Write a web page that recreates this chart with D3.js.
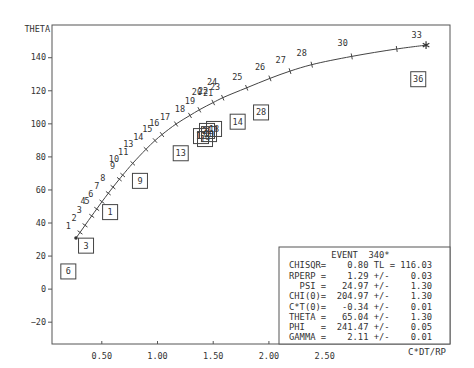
<!DOCTYPE html>
<html>
<head>
<meta charset="utf-8">
<script src="https://cdn.jsdelivr.net/npm/d3@7"></script>
<style>
  body { margin: 0; background: #fff; }
  text { font-family: "DejaVu Sans Mono", monospace; fill: #333; }
</style>
</head>
<body>
<div id="chart"></div>
<script>
// fitted track (x = C*DT/RP, y = THETA)
const curveX = [0.273, 0.309, 0.354, 0.414, 0.459, 0.506, 0.563, 0.605, 0.662, 0.692, 0.782, 0.901, 0.982, 1.045, 1.171, 1.296, 1.38, 1.505, 1.59, 1.805, 2.014, 2.194, 2.389, 2.748, 3.152, 3.415];
const curveY = [30.6, 34.0, 38.3, 44.0, 48.2, 52.6, 57.7, 61.4, 66.2, 68.7, 75.8, 84.3, 89.6, 93.2, 99.6, 104.8, 108.2, 112.6, 115.5, 121.5, 127.2, 131.6, 135.5, 140.5, 145.0, 147.3];

// numbered measurement labels along the track
const numLabels = ['1', '2', '3', '4', '5', '6', '7', '8', '9', '10', '11', '13', '14', '15', '16', '17', '18', '19', '20', '22', '21', '23', '24', '25', '26', '27', '28', '30', '33'];
const numX = [0.204, 0.255, 0.303, 0.336, 0.372, 0.405, 0.459, 0.513, 0.602, 0.614, 0.697, 0.742, 0.832, 0.913, 0.976, 1.072, 1.206, 1.296, 1.359, 1.413, 1.458, 1.521, 1.494, 1.721, 1.925, 2.11, 2.299, 2.667, 3.331];
const numY = [37.6, 42.7, 47.7, 52.8, 52.8, 57.3, 62.2, 66.8, 74.2, 78.3, 82.5, 87.3, 91.9, 96.4, 100.4, 104, 108.4, 113.5, 118.9, 119.5, 118.3, 122.1, 124.9, 127.8, 133.8, 138.6, 142.6, 148.3, 153.7];

// boxed points
const boxLabels = ['6', '3', '1', '9', '13', '17', '19', '21', '20', '18', '14', '28', '36'];
const boxX = [0.204, 0.363, 0.579, 0.847, 1.213, 1.395, 1.431, 1.449, 1.467, 1.512, 1.724, 1.934, 3.345];
const boxY = [10.4, 26, 46.3, 65.2, 81.9, 92.3, 90.5, 95.4, 93.5, 96.6, 101, 106.6, 126.7];

const yTicks = [-20, 0, 20, 40, 60, 80, 100, 120, 140];
const xTicks = [0.5, 1.0, 1.5, 2.0, 2.5];

const fitLines = [
  '        EVENT  340*',
  'CHISQR=    0.80 TL = 116.03',
  'RPERP =    1.29 +/-    0.03',
  '  PSI =   24.97 +/-    1.30',
  'CHI(0)=  204.97 +/-    1.30',
  'C*T(0)=   -0.34 +/-    0.01',
  'THETA =   65.04 +/-    1.30',
  'PHI   =  241.47 +/-    0.05',
  'GAMMA =    2.11 +/-    0.01'
];

const W = 474, H = 368;
const pLeft = 52, pRight = 450, pTop = 25, pBottom = 344;

const svg = d3.select('#chart').append('svg')
  .attr('width', W)
  .attr('height', H);

const x = d3.scaleLinear().domain([0.0575, 3.63]).range([pLeft, pRight]);
const y = d3.scaleLinear().domain([-33.5, 159.5]).range([pBottom, pTop]);

// frame
svg.append('rect')
  .attr('x', pLeft).attr('y', pTop)
  .attr('width', pRight - pLeft).attr('height', pBottom - pTop)
  .attr('fill', 'none').attr('stroke', '#555').attr('stroke-width', 1);

// y axis
const yAxis = d3.axisLeft(y).tickValues(yTicks).tickSize(4).tickPadding(2)
  .tickFormat(d => d3.format('.0f')(d));
const gy = svg.append('g').attr('transform', `translate(${pLeft},0)`).call(yAxis);
gy.select('.domain').remove();
gy.selectAll('line').attr('stroke', '#555');
gy.selectAll('text').style('font-size', '8.5px').attr('fill', '#333');

// x axis, ticks point inward
const xAxis = d3.axisBottom(x).tickValues(xTicks).tickSize(-3).tickPadding(9)
  .tickFormat(d3.format('.2f'));
const gx = svg.append('g').attr('transform', `translate(0,${pBottom})`).call(xAxis);
gx.select('.domain').remove();
gx.selectAll('line').attr('stroke', '#555');
gx.selectAll('text').style('font-size', '8.5px').attr('fill', '#333');

svg.append('text')
  .attr('x', 50).attr('y', 32)
  .attr('text-anchor', 'end')
  .style('font-size', '8.5px')
  .text('THETA');

svg.append('text')
  .attr('x', 446).attr('y', 355)
  .attr('text-anchor', 'end')
  .style('font-size', '9px')
  .text('C*DT/RP');

// track
const pts = curveX.map((d, i) => [x(d), y(curveY[i])]);
svg.append('path')
  .attr('d', d3.line().curve(d3.curveCatmullRom)(pts))
  .attr('fill', 'none').attr('stroke', '#444').attr('stroke-width', 1);

// small cross ticks on the track
const tickLen = 3;
pts.slice(1, -1).forEach((p, k) => {
  const a = pts[k], b = pts[k + 2];
  const dx = b[0] - a[0], dy = b[1] - a[1];
  const n = Math.hypot(dx, dy);
  const nx = -dy / n, ny = dx / n;
  svg.append('line')
    .attr('x1', p[0] - nx * tickLen).attr('y1', p[1] - ny * tickLen)
    .attr('x2', p[0] + nx * tickLen).attr('y2', p[1] + ny * tickLen)
    .attr('stroke', '#444').attr('stroke-width', 1);
});

// start dot and end asterisk
svg.append('circle')
  .attr('cx', pts[0][0]).attr('cy', pts[0][1]).attr('r', 1.8)
  .attr('fill', '#333');
svg.append('path')
  .attr('transform', `translate(${pts[pts.length - 1][0]},${pts[pts.length - 1][1]})`)
  .attr('d', d3.symbol().type(d3.symbolAsterisk).size(40)())
  .attr('fill', 'none').attr('stroke', '#333').attr('stroke-width', 1.2);

// numbers along track
svg.selectAll('.num')
  .data(numLabels)
  .enter()
  .append('text')
  .attr('class', 'num')
  .attr('x', (d, i) => x(numX[i]))
  .attr('y', (d, i) => y(numY[i]))
  .attr('dy', '0.35em')
  .attr('text-anchor', 'middle')
  .style('font-size', '8.5px')
  .text(d => d);

// boxed points
const boxes = svg.selectAll('.box')
  .data(boxLabels)
  .enter()
  .append('g')
  .attr('class', 'box')
  .attr('transform', (d, i) => `translate(${x(boxX[i])},${y(boxY[i])})`);

boxes.append('rect')
  .attr('x', -7.5).attr('y', -7.5)
  .attr('width', 15).attr('height', 15)
  .attr('fill', 'none').attr('stroke', '#444').attr('stroke-width', 1);

boxes.append('text')
  .attr('dy', '0.35em')
  .attr('text-anchor', 'middle')
  .style('font-size', '8.5px')
  .text(d => d);

// fit results box
svg.append('rect')
  .attr('x', 279).attr('y', 247)
  .attr('width', pRight - 279).attr('height', pBottom - 247)
  .attr('fill', '#fff').attr('stroke', '#555').attr('stroke-width', 1);

svg.selectAll('.fit')
  .data(fitLines)
  .enter()
  .append('text')
  .attr('class', 'fit')
  .attr('x', 289)
  .attr('y', (d, i) => 258 + i * 10.3)
  .style('font-size', '8.8px')
  .style('white-space', 'pre')
  .attr('xml:space', 'preserve')
  .text(d => d);
</script>
</body>
</html>
